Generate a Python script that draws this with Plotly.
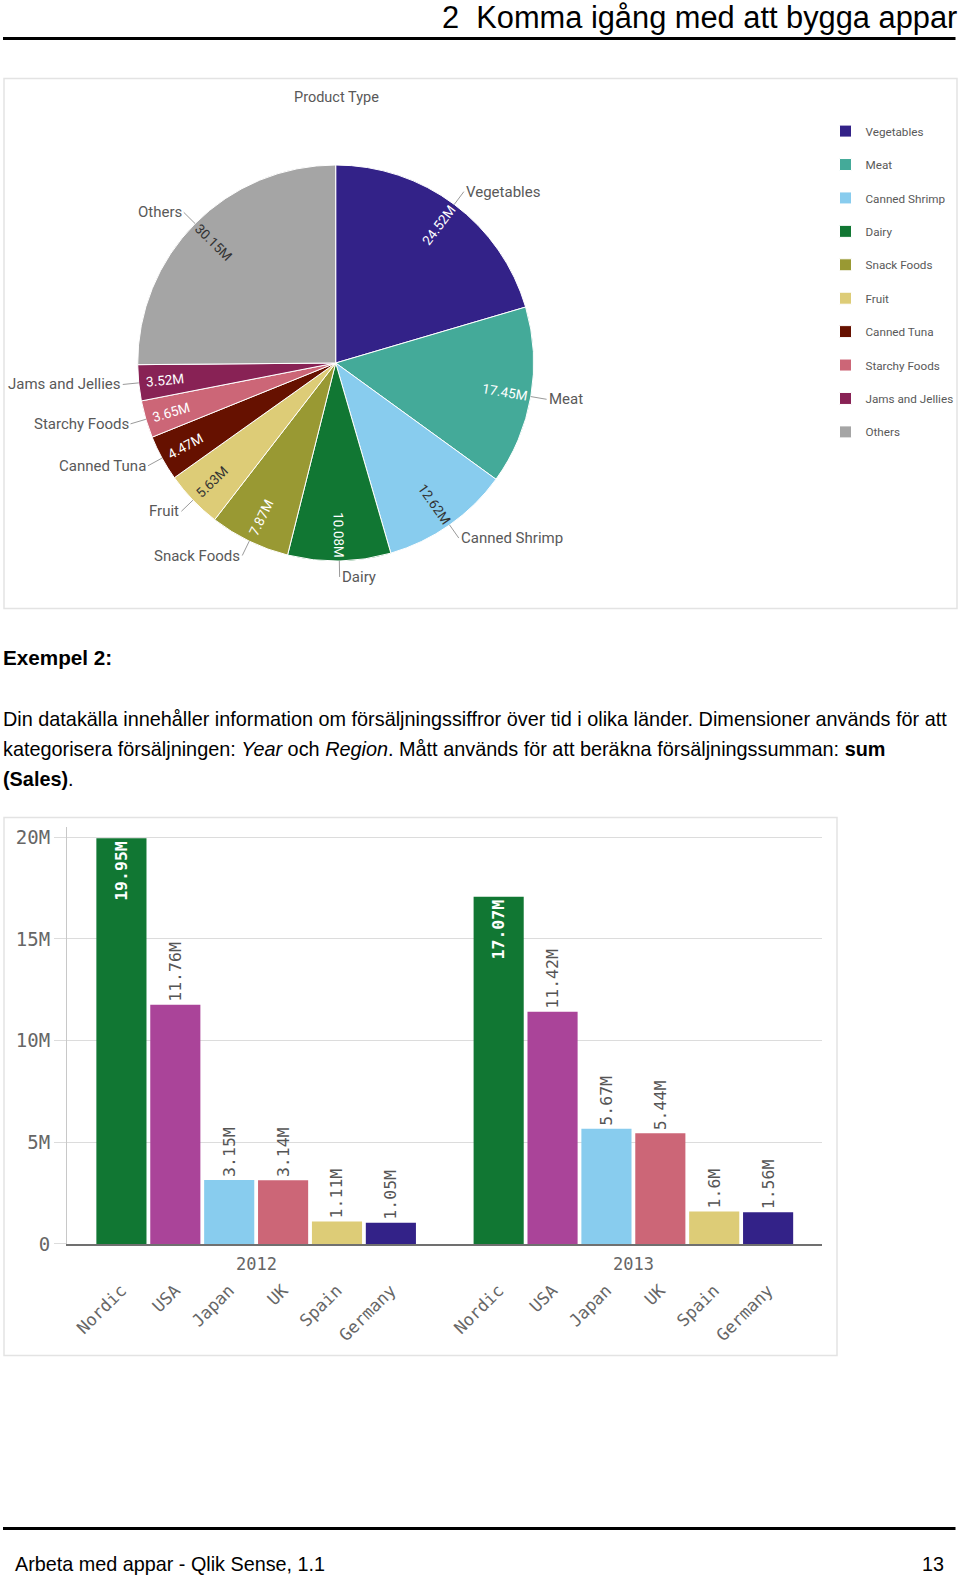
import math
import plotly.graph_objects as go

# Page coordinates below are given in reference pixels (960 x 1577 page).
SX, SY = 1.0, 1.0076   # rendering scale compensation
W, H = 968, 1590       # figure size in CSS px

# ---------------- data ----------------
product_types = ["Vegetables", "Meat", "Canned Shrimp", "Dairy", "Snack Foods",
                 "Fruit", "Canned Tuna", "Starchy Foods", "Jams and Jellies", "Others"]
product_sales_m = [24.52, 17.45, 12.62, 10.08, 7.87, 5.63, 4.47, 3.65, 3.52, 30.15]
product_colors = ["#332288", "#44aa99", "#88ccee", "#117733", "#999933",
                  "#ddcc77", "#661100", "#cc6677", "#882255", "#a5a5a5"]
product_text_colors = ["white", "white", "#333333", "white", "white",
                       "#333333", "white", "white", "white", "#333333"]

years = ["2012", "2013"]
regions = ["Nordic", "USA", "Japan", "UK", "Spain", "Germany"]
sales_2012 = [19.95, 11.76, 3.15, 3.14, 1.11, 1.05]
sales_2013 = [17.07, 11.42, 5.67, 5.44, 1.6, 1.56]
region_colors = ["#117733", "#aa4499", "#88ccee", "#cc6677", "#ddcc77", "#332288"]
y_tickvals = [0, 5, 10, 15, 20]
y_ticktext = ["0", "5M", "10M", "15M", "20M"]

# ---------------- helpers ----------------
def fx(x):
    return x * SX / W


def fy(y):
    return 1 - y * SY / H


DOC = "Liberation Sans, Arial, sans-serif"
QFONT = "Roboto, Liberation Sans, sans-serif"
MONO = "DejaVu Sans Mono, Liberation Mono, monospace"
GREY = "#595959"

fig = go.Figure()

# ---------------- pie ----------------
PIE_CX, PIE_CY, PIE_R = 335.7, 362.0, 198.0
pie_domain = dict(x=[fx(PIE_CX - PIE_R), fx(PIE_CX + PIE_R)],
                  y=[fy(PIE_CY + PIE_R), fy(PIE_CY - PIE_R)])
legend_labels = [p + "<br> " for p in product_types]

fig.add_trace(go.Pie(
    labels=legend_labels, values=product_sales_m, sort=False,
    direction="clockwise", rotation=0, textinfo="none",
    marker=dict(colors=product_colors, line=dict(color="white", width=1)),
    domain=pie_domain, hoverinfo="label+value", showlegend=True,
))

annotations = []
total = sum(product_sales_m)
cum = 0.0
L = 16
R_TXT = 172
for name, v, tcol in zip(product_types, product_sales_m, product_text_colors):
    mid = (cum + v / 2) / total * 2 * math.pi
    cum += v
    s, c = math.sin(mid), math.cos(mid)
    # outside category label with leader line
    hx = PIE_CX + PIE_R * s
    hy = PIE_CY - PIE_R * c
    annotations.append(dict(
        x=fx(hx), y=fy(hy), xref="paper", yref="paper",
        ax=L * s, ay=-L * c, axref="pixel", ayref="pixel",
        text=name, showarrow=True, arrowhead=0, arrowwidth=1,
        arrowcolor="#9a9a9a", standoff=0,
        xanchor="left" if s >= 0 else "right", yanchor="middle",
        font=dict(family=QFONT, size=15, color=GREY),
    ))
    # radial value label inside the slice
    ang = math.degrees(mid) - 90
    if ang > 90:
        ang -= 180
    annotations.append(dict(
        x=fx(PIE_CX + R_TXT * s), y=fy(PIE_CY - R_TXT * c),
        text=f"{v:.2f}M", textangle=ang, showarrow=False,
        xanchor="center", yanchor="middle",
        font=dict(family=QFONT, size=13.5, color=tcol),
    ))

# ---------------- bars ----------------
pos_2012 = list(range(len(regions)))
pos_2013 = [len(regions) + 1 + i for i in range(len(regions))]
for pos, vals in [(pos_2012, sales_2012), (pos_2013, sales_2013)]:
    fig.add_trace(go.Bar(
        x=pos, y=vals, width=0.93, xaxis="x", yaxis="y",
        marker=dict(color=region_colors, line=dict(width=0)),
        text=[f"{v:g}M" for v in vals],
        textposition=["inside" if v >= 15 else "outside" for v in vals],
        textangle=-90, insidetextanchor="end", constraintext="none",
        insidetextfont=dict(color="white", family=MONO, size=16.5, weight="bold"),
        outsidetextfont=dict(color="#555555", family=MONO, size=16.5),
        cliponaxis=False, showlegend=False, hoverinfo="x+y",
    ))

for yr, pos in zip(years, [pos_2012, pos_2013]):
    annotations.append(dict(
        x=sum(pos) / len(pos), xref="x", y=fy(1263), yref="paper",
        text=yr, showarrow=False, xanchor="center", yanchor="middle",
        font=dict(family=MONO, size=17, color="#666666"),
    ))

# ---------------- page texts ----------------
annotations += [
    dict(x=fx(959), y=fy(17), text="2\u00a0\u00a0Komma igång med att bygga appar",
         xanchor="right", yanchor="middle", font=dict(family=DOC, size=30.8, color="#000")),
    dict(x=fx(336), y=fy(97), text="Product Type", xanchor="center", yanchor="middle",
         font=dict(family=QFONT, size=14.5, color=GREY)),
    dict(x=fx(1), y=fy(656.5), text="<b>Exempel 2:</b>", xanchor="left", yanchor="middle",
         font=dict(family=DOC, size=20.7, color="#000")),
    dict(x=fx(1), y=fy(718),
         text="Din datakälla innehåller information om försäljningssiffror över tid i olika länder. Dimensioner används för att",
         xanchor="left", yanchor="middle", font=dict(family=DOC, size=19.85, color="#000")),
    dict(x=fx(1), y=fy(748.3),
         text="kategorisera försäljningen: <i>Year</i> och <i>Region</i>. Mått används för att beräkna försäljningssumman: <b>sum</b>",
         xanchor="left", yanchor="middle", font=dict(family=DOC, size=19.85, color="#000")),
    dict(x=fx(1), y=fy(778.4), text="<b>(Sales)</b>.",
         xanchor="left", yanchor="middle", font=dict(family=DOC, size=19.85, color="#000")),
    dict(x=fx(13), y=fy(1563), text="Arbeta med appar - Qlik Sense, 1.1",
         xanchor="left", yanchor="middle", font=dict(family=DOC, size=19.8, color="#000")),
    dict(x=fx(946), y=fy(1563), text="13",
         xanchor="right", yanchor="middle", font=dict(family=DOC, size=19.8, color="#000")),
]
for a in annotations:
    a.setdefault("xref", "paper")
    a.setdefault("yref", "paper")
    if not a.get("showarrow"):
        a["showarrow"] = False

shapes = [
    dict(type="line", xref="paper", yref="paper", x0=fx(3), x1=fx(955.5), y0=fy(37.5), y1=fy(37.5),
         line=dict(color="#000", width=3)),
    dict(type="line", xref="paper", yref="paper", x0=fx(3), x1=fx(955.5), y0=fy(1527.5), y1=fy(1527.5),
         line=dict(color="#000", width=3)),
    dict(type="rect", xref="paper", yref="paper", x0=fx(4), x1=fx(957), y0=fy(607.5), y1=fy(77.5),
         line=dict(color="#e3e3e3", width=1.5), layer="below"),
    dict(type="rect", xref="paper", yref="paper", x0=fx(4), x1=fx(837), y0=fy(1354.5), y1=fy(816.5),
         line=dict(color="#e3e3e3", width=1.5), layer="below"),
]

fig.update_layout(
    width=W, height=H, autosize=False,
    margin=dict(l=0, r=0, t=0, b=0, pad=0),
    paper_bgcolor="white", plot_bgcolor="white",
    annotations=annotations, shapes=shapes,
    legend=dict(x=fx(825.5), y=fy(116), xanchor="left", yanchor="top",
                font=dict(family=QFONT, size=11.7, color=GREY), valign="top",
                bgcolor="rgba(0,0,0,0)", traceorder="normal"),
    xaxis=dict(domain=[fx(67), fx(822)], anchor="y", range=[-1.01, 13.0],
               tickvals=pos_2012 + pos_2013, ticktext=regions + regions,
               tickangle=-45, ticklabelstandoff=28, showgrid=False, zeroline=False,
               showline=True, linecolor="#707070", linewidth=1.5, ticks="",
               tickfont=dict(family=MONO, size=17, color="#666666")),
    yaxis=dict(domain=[fy(1243), fy(826)], anchor="x", range=[0, 20.5],
               tickvals=y_tickvals, ticktext=y_ticktext,
               showgrid=True, gridcolor="#dcdcdc", gridwidth=1,
               ticks="outside", ticklen=12, tickcolor="#dcdcdc",
               showline=True, linecolor="#c8c8c8", linewidth=1, zeroline=False,
               tickfont=dict(family=MONO, size=19, color="#666666")),
)

fig.write_html("out.html", config={"displayModeBar": False},
               post_script="document.body.style.margin='0';")
